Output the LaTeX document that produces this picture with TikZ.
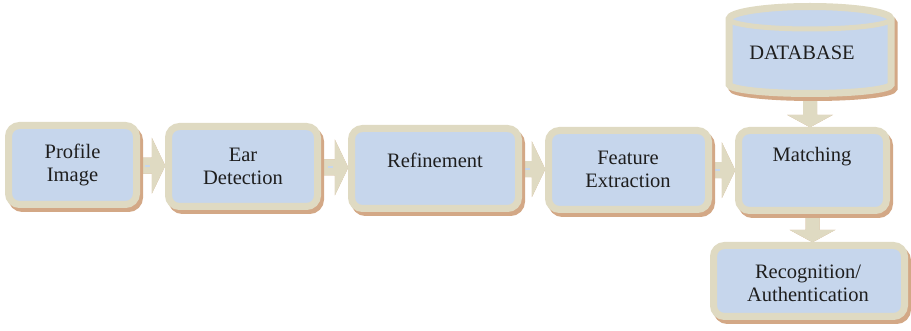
\documentclass[tikz,border=0pt]{standalone}
\usepackage{fontspec}
\setmainfont{Liberation Serif}
\usetikzlibrary{calc}
\definecolor{beige}{HTML}{DFDAC2}
\definecolor{boxblue}{HTML}{C6D6EC}
\definecolor{shadowbrown}{HTML}{D3A886}
\definecolor{txt}{HTML}{1E1E1E}
\tikzset{
  box/.style={draw=beige, fill=boxblue, line width=7pt, rounded corners=11pt,
    inner sep=0pt, outer sep=3.5pt,
    preaction={draw=shadowbrown, fill=shadowbrown, transform canvas={shift={(3pt,-4pt)}}}},
  lbl/.style={text=txt, align=center, inner sep=0pt, font=\fontsize{20.5pt}{23pt}\selectfont},
  arrowbody/.style={fill=beige},
  arrowshadow/.style={fill=shadowbrown},
}
\newcommand\hblockarrow[3]{% #1 from, #2 to, #3 style
  \path[#3] let \p1=(#1.east), \p2=(#2.west), \n1={(\y1+\y2)/2} in
    (\x1-2pt,\n1+8pt) -- (\x2-13pt,\n1+8pt) -- (\x2-13pt,\n1+28pt) -- (\x2+0.5pt,\n1)
    -- (\x2-13pt,\n1-28pt) -- (\x2-13pt,\n1-8pt) -- (\x1-2pt,\n1-8pt) -- cycle;
}
\newcommand\hblockdash[2]{%
  \path[fill=boxblue] let \p1=(#1.east), \p2=(#2.west), \n1={(\y1+\y2)/2} in
    (\x2-20pt,\n1-1pt) rectangle (\x2-15pt,\n1+1pt);
}
\newcommand\vblockarrow[3]{% #1 from, #2 to, #3 style
  \path[#3] let \p1=(#1.south), \p2=(#2.north) in
    (\x1-7pt,\y1+2pt) -- (\x1-7pt,\y2+12pt) -- (\x1-23pt,\y2+12pt) -- (\x1,\y2-0.5pt)
    -- (\x1+23pt,\y2+12pt) -- (\x1+7pt,\y2+12pt) -- (\x1+7pt,\y1+2pt) -- cycle;
}
\begin{document}
\begin{tikzpicture}[x=1pt,y=-1pt]
\useasboundingbox (0,0) rectangle (911,331);

% placement nodes
\node[minimum width=135pt, minimum height=86pt, inner sep=0pt] (b1) at (72.5,165) {};
\node[minimum width=156pt, minimum height=87pt, inner sep=0pt] (b2) at (243,166.5) {};
\node[minimum width=174pt, minimum height=87pt, inner sep=0pt] (b3) at (435,168.5) {};
\node[minimum width=167pt, minimum height=86pt, inner sep=0pt] (b4) at (628.5,170) {};
\node[minimum width=155pt, minimum height=87pt, inner sep=0pt] (b5) at (812.5,170.5) {};
\node[minimum width=198pt, minimum height=78pt, inner sep=0pt] (b6) at (809,281) {};
\node[minimum width=170pt, minimum height=94pt, inner sep=0pt] (db) at (810,50) {};

% arrows (shadow first)
\begin{scope}[shift={(2pt,-3pt)}]
  \hblockarrow{b1}{b2}{arrowshadow}
  \hblockarrow{b2}{b3}{arrowshadow}
  \hblockarrow{b3}{b4}{arrowshadow}
  \hblockarrow{b4}{b5}{arrowshadow}
\end{scope}
\begin{scope}[shift={(3pt,-3pt)}]
  \vblockarrow{db}{b5}{arrowshadow}
  \vblockarrow{b5}{b6}{arrowshadow}
\end{scope}
\hblockarrow{b1}{b2}{arrowbody}
\hblockarrow{b2}{b3}{arrowbody}
\hblockarrow{b3}{b4}{arrowbody}
\hblockarrow{b4}{b5}{arrowbody}
\vblockarrow{db}{b5}{arrowbody}
\vblockarrow{b5}{b6}{arrowbody}
\hblockdash{b1}{b2}
\hblockdash{b2}{b3}
\hblockdash{b3}{b4}
\hblockdash{b4}{b5}

% boxes
\node[box, minimum width=128pt, minimum height=79pt] at (b1) {};
\node[box, minimum width=149pt, minimum height=80pt] at (b2) {};
\node[box, minimum width=167pt, minimum height=80pt] at (b3) {};
\node[box, minimum width=160pt, minimum height=79pt] at (b4) {};
\node[box, minimum width=148pt, minimum height=80pt] at (b5) {};
\node[box, minimum width=191pt, minimum height=71pt] at (b6) {};

% database cylinder
\path[fill=shadowbrown, draw=shadowbrown, line width=7pt, transform canvas={shift={(3pt,-4pt)}}]
  (729,19) -- (729,84.5) arc[start angle=180,end angle=360,x radius=81pt,y radius=9pt]
  -- (891,19) arc[start angle=0,end angle=180,x radius=81pt,y radius=12.5pt] -- cycle;
\path[fill=boxblue, draw=beige, line width=7pt]
  (729,19) -- (729,84.5) arc[start angle=180,end angle=360,x radius=81pt,y radius=9pt]
  -- (891,19) arc[start angle=0,end angle=180,x radius=81pt,y radius=12.5pt] -- cycle;
\draw[beige, line width=5pt] (729,19) arc[start angle=180,end angle=360,x radius=81pt,y radius=10pt];

% labels
\node[lbl] (t1) at (72.5,164.5) {Profile\\Image};
\node[lbl] (t2) at (243,166.5) {Ear\\Detection};
\node[lbl] (t3) at (435,160) {Refinement};
\node[lbl] (t4) at (628,169) {Feature\\Extraction};
\node[lbl] (t5) at (812,157) {Matching};
\node[lbl] (t6) at (808,283) {Recognition/\\Authentication};
\node[lbl] (t7) at (802,53) {DATABASE};
\end{tikzpicture}
\end{document}
